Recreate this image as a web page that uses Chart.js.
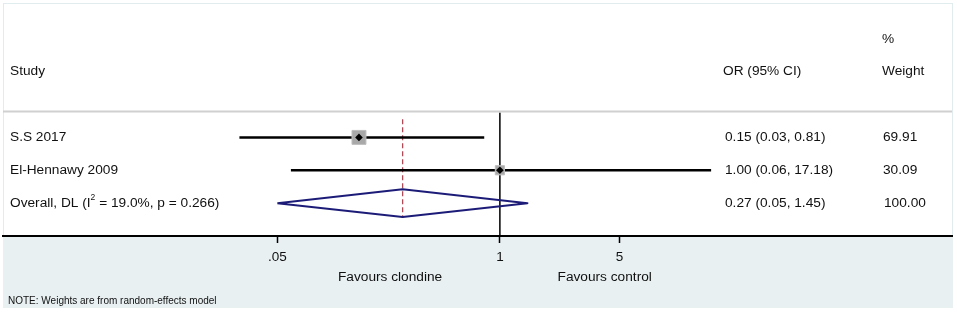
<!DOCTYPE html>
<html>
<head>
<meta charset="utf-8">
<script src="https://cdn.jsdelivr.net/npm/chart.js@4.4.1/dist/chart.umd.min.js"></script>
<style>
  html, body { margin: 0; padding: 0; background: #fff; }
  #wrap { width: 957px; height: 313px; }
</style>
</head>
<body>
<div id="wrap"><canvas id="forest"></canvas></div>
<script>
// Study data (odds ratios, 95% CI, weights)
const studies = ['S.S 2017', 'El-Hennawy 2009'];
const orValues = [0.15, 1.00];
const ciLow = [0.03, 0.06];
const ciHigh = [0.81, 17.18];
const weights = [69.91, 30.09];

// Overall random-effects estimate
const overallOR = 0.27;
const overallLow = 0.05;
const overallHigh = 1.45;

// Text columns
const orText = ['0.15 (0.03, 0.81)', '1.00 (0.06, 17.18)', '0.27 (0.05, 1.45)'];
const weightText = ['69.91', '30.09', '100.00'];
const xTicks = [0.05, 1, 5];
const tickLabels = ['.05', '1', '5'];

const FONT = '"Liberation Sans", Arial, sans-serif';
const rowOverall = studies.length + 1;

// CI lines, one per study
const ciSets = studies.map((s, i) => ({
    type: 'line',
    data: [{x: ciLow[i], y: i + 1}, {x: ciHigh[i], y: i + 1}],
    borderColor: '#000',
    borderWidth: 2.5,
    pointRadius: 0,
    order: 3
}));

// weight squares
const boxSet = {
    type: 'scatter',
    data: studies.map((s, i) => ({x: orValues[i], y: i + 1})),
    pointStyle: 'rect',
    pointRadius: weights.map(w => Math.sqrt(w) * 1.18),
    backgroundColor: '#a8a8a8',
    borderColor: '#bdbdbd',
    borderWidth: 1,
    order: 2
};

// point estimate markers
const pointSet = {
    type: 'scatter',
    data: studies.map((s, i) => ({x: orValues[i], y: i + 1})),
    pointStyle: 'rectRot',
    pointRadius: 3.8,
    backgroundColor: '#000',
    borderColor: '#000',
    borderWidth: 0,
    order: 1
};

// overall diamond
const dh = 0.42;
const diamondSet = {
    type: 'line',
    data: [
        {x: overallLow, y: rowOverall},
        {x: overallOR, y: rowOverall - dh},
        {x: overallHigh, y: rowOverall},
        {x: overallOR, y: rowOverall + dh},
        {x: overallLow, y: rowOverall}
    ],
    borderColor: '#1c1c78',
    borderWidth: 2,
    borderJoinStyle: 'round',
    pointRadius: 0,
    tension: 0,
    order: 2
};

// line of no effect
const nullSet = {
    type: 'line',
    data: [{x: 1, y: 0.24}, {x: 1, y: 4}],
    borderColor: '#000',
    borderWidth: 1.5,
    pointRadius: 0,
    order: 4
};

// overall estimate (dashed)
const overallLine = {
    type: 'line',
    data: [{x: overallOR, y: 0.45}, {x: overallOR, y: 3.45}],
    borderColor: '#b04a55',
    borderWidth: 1.3,
    borderDash: [5, 3],
    pointRadius: 0,
    order: 5
};

const forestText = {
    id: 'forestText',
    beforeDraw(chart) {
        const ctx = chart.ctx;
        const a = chart.chartArea;
        ctx.save();
        ctx.fillStyle = '#fff';
        ctx.fillRect(0, 0, chart.width, chart.height);
        // lower panel
        ctx.fillStyle = '#e8f0f2';
        ctx.fillRect(a.left, a.bottom, a.right - a.left + 1, 72);
        // faint frame
        ctx.strokeStyle = '#e0ecee';
        ctx.lineWidth = 1;
        ctx.strokeRect(a.left + 0.5, a.top + 0.5, a.right - a.left, a.bottom - a.top);
        ctx.restore();
    },
    afterDatasetsDraw(chart) {
        const ctx = chart.ctx;
        const a = chart.chartArea;
        const xs = chart.scales.x;
        const ys = chart.scales.y;
        ctx.save();
        // header separator
        ctx.strokeStyle = '#d0d0d0';
        ctx.lineWidth = 2;
        const sepY = ys.getPixelForValue(0.21);
        ctx.beginPath();
        ctx.moveTo(a.left, sepY);
        ctx.lineTo(a.right, sepY);
        ctx.stroke();

        const f = '13.7px ' + FONT;
        ctx.fillStyle = '#111';
        ctx.font = f;
        ctx.textBaseline = 'middle';
        ctx.textAlign = 'left';
        const hY = ys.getPixelForValue(-1);
        ctx.fillText('Study', 10, hY);
        ctx.fillText('OR (95% CI)', 723, hY);
        ctx.fillText('Weight', 882, hY);
        ctx.fillText('%', 882, ys.getPixelForValue(-2));

        studies.forEach((s, i) => {
            const y = ys.getPixelForValue(i + 1);
            ctx.fillText(s, 10, y);
            ctx.fillText(orText[i], 725, y);
            ctx.fillText(weightText[i], 883, y);
        });
        const oy = ys.getPixelForValue(rowOverall);
        // overall label with superscript 2
        let tx = 10;
        const parts = ['Overall, DL (I', '2', ' = 19.0%, p = 0.266)'];
        ctx.fillText(parts[0], tx, oy);
        tx += ctx.measureText(parts[0]).width;
        ctx.font = '8.5px ' + FONT;
        ctx.fillText(parts[1], tx, oy - 5);
        tx += ctx.measureText(parts[1]).width;
        ctx.font = f;
        ctx.fillText(parts[2], tx, oy);
        ctx.fillText(orText[2], 725, oy);
        ctx.fillText(weightText[2], 884, oy);

        // favours labels
        ctx.textAlign = 'center';
        ctx.fillText('Favours clondine', xs.getPixelForValue(0.228), 277);
        ctx.fillText('Favours control', xs.getPixelForValue(4.1), 277);

        ctx.textAlign = 'left';
        ctx.font = '10px ' + FONT;
        ctx.fillText('NOTE: Weights are from random-effects model', 8, 301);
        ctx.restore();
    }
};

new Chart(document.getElementById('forest'), {
    data: {
        datasets: [nullSet, overallLine, ...ciSets, boxSet, pointSet, diamondSet]
    },
    options: {
        responsive: true,
        maintainAspectRatio: false,
        animation: false,
        layout: { autoPadding: false, padding: { left: 3, right: 5, top: 3, bottom: 0 } },
        plugins: { legend: { display: false }, tooltip: { enabled: false } },
        scales: {
            x: {
                type: 'logarithmic',
                position: 'bottom',
                min: 0.001244,
                max: 440,
                afterBuildTicks(scale) {
                    scale.ticks = xTicks.map(v => ({value: v}));
                },
                afterFit(scale) {
                    scale.height = 77;
                },
                ticks: {
                    autoSkip: false,
                    maxRotation: 0,
                    color: '#111',
                    padding: 6,
                    font: { family: FONT, size: 13.5 },
                    callback(value) {
                        const i = xTicks.indexOf(value);
                        return i >= 0 ? tickLabels[i] : '';
                    }
                },
                grid: {
                    drawOnChartArea: false,
                    drawTicks: true,
                    tickLength: 7,
                    tickWidth: 1.5,
                    color: '#000'
                },
                border: { display: true, color: '#000', width: 2 }
            },
            y: {
                type: 'linear',
                display: false,
                reverse: true,
                min: -3.09,
                max: 4
            }
        }
    },
    plugins: [forestText]
});
</script>
</body>
</html>
